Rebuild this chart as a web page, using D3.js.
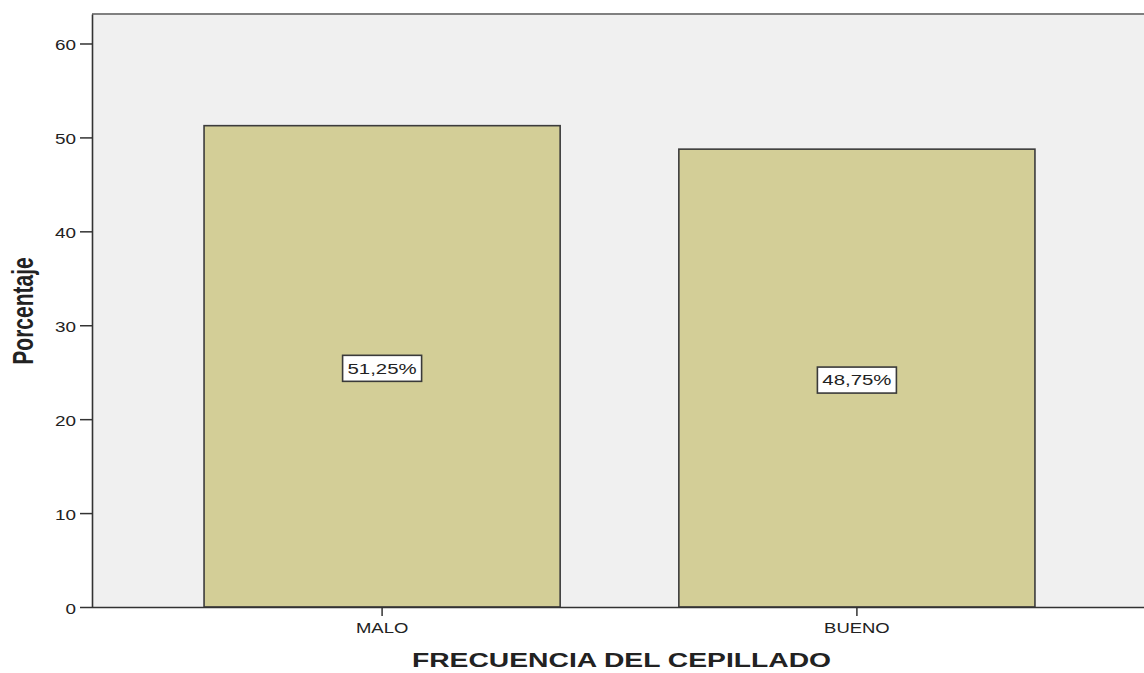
<!DOCTYPE html>
<html>
<head>
<meta charset="utf-8">
<script src="https://cdn.jsdelivr.net/npm/d3@7"></script>
<style>
  html, body { margin: 0; padding: 0; background: #ffffff; }
  svg { display: block; }
  text { font-family: "Liberation Sans", Arial, sans-serif; fill: #222; }
</style>
</head>
<body>
<script>
const categories = ["MALO", "BUENO"];
const values = [51.25, 48.75];
const valueLabels = ["51,25%", "48,75%"];
const yTicks = [0, 10, 20, 30, 40, 50, 60];
const xTitle = "FRECUENCIA DEL CEPILLADO";
const yTitle = "Porcentaje";

(function () {
const W = 1144, H = 673;
const svg = d3.select("body").append("svg").attr("width", W).attr("height", H);

const pLeft = 92, pTop = 14, pBottom = 607, pRight = 1147;
const x = d3.scaleBand().domain(categories).range([pLeft, pRight]).paddingInner(0.25).paddingOuter(0.236);
const y = d3.scaleLinear().domain([0, 63.14]).range([pBottom, pTop]);

// plot background
svg.append("rect").attr("x", pLeft).attr("y", pTop).attr("width", W - pLeft + 5).attr("height", pBottom - pTop)
  .attr("fill", "#f0f0f0");
// top border
svg.append("line").attr("x1", pLeft).attr("x2", W).attr("y1", pTop).attr("y2", pTop)
  .attr("stroke", "#808080").attr("stroke-width", 2);

// bars
svg.selectAll("rect.bar").data(categories).enter().append("rect")
  .attr("class", "bar")
  .attr("x", d => x(d))
  .attr("y", (d, i) => y(values[i]))
  .attr("width", x.bandwidth())
  .attr("height", (d, i) => pBottom - y(values[i]))
  .attr("fill", "#d3ce97")
  .attr("stroke", "#3c3c3c")
  .attr("stroke-width", 1.6);

// y axis
const yAxis = svg.append("g").attr("transform", `translate(${pLeft},0)`)
  .call(d3.axisLeft(y).tickValues(yTicks).tickSize(12).tickSizeOuter(0).tickFormat(d3.format("d")));
yAxis.select(".domain").attr("stroke", "#333").attr("stroke-width", 1.6);
yAxis.selectAll(".tick line").attr("stroke", "#333").attr("stroke-width", 1.5);
yAxis.selectAll(".tick text")
  .attr("x", 0).attr("dy", "0.45em")
  .attr("transform", "translate(-16,0) scale(1.35,1)")
  .style("font-size", "14px").style("font-family", "'Liberation Sans', Arial, sans-serif")
  .attr("fill", "#222");

// x axis
const xAxis = svg.append("g").attr("transform", `translate(0,${pBottom})`)
  .call(d3.axisBottom(x).tickSize(9).tickSizeOuter(0));
xAxis.select(".domain").attr("stroke", "#333").attr("stroke-width", 1.6)
  .attr("d", `M${pLeft},0.5H${W + 5}`);
xAxis.selectAll(".tick line").attr("stroke", "#333").attr("stroke-width", 1.5);
xAxis.selectAll(".tick text")
  .attr("y", 0).attr("dy", 0)
  .attr("transform", "translate(0,26) scale(1.32,1)")
  .style("font-size", "14px").style("font-family", "'Liberation Sans', Arial, sans-serif")
  .attr("fill", "#222");

// value label boxes
const lab = svg.selectAll("g.lab").data(categories).enter().append("g")
  .attr("class", "lab")
  .attr("transform", (d, i) => `translate(${x(d) + x.bandwidth() / 2},${y(values[i] / 2) + 2})`);
lab.append("rect").attr("x", -39.5).attr("y", -13).attr("width", 79).attr("height", 26)
  .attr("fill", "#ffffff").attr("stroke", "#3a3a3a").attr("stroke-width", 1.6);
lab.append("text").text((d, i) => valueLabels[i])
  .attr("text-anchor", "middle").attr("dy", "0.36em")
  .attr("transform", "scale(1.36,1)")
  .style("font-size", "15px").attr("fill", "#111");

// x title
svg.append("text").text(xTitle)
  .attr("text-anchor", "middle")
  .attr("transform", `translate(621.5,667) scale(1.45,1)`)
  .style("font-size", "19.5px").style("font-weight", "bold").attr("fill", "#111");

// y title
svg.append("text").text(yTitle)
  .attr("text-anchor", "middle")
  .attr("transform", `translate(33,311) scale(1.4,1) rotate(-90)`)
  .style("font-size", "21px").style("font-weight", "bold").attr("fill", "#111");
})();
</script>
</body>
</html>
